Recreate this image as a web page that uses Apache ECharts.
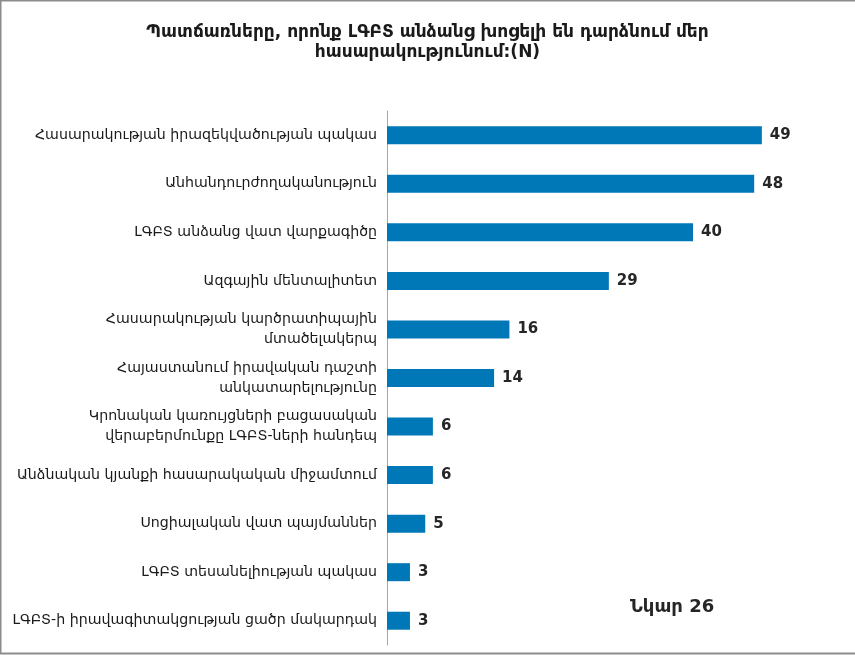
<!DOCTYPE html>
<html>
<head>
<meta charset="utf-8">
<style>
  html, body { margin: 0; padding: 0; background: #fff; }
  #chart { width: 855px; height: 655px; }
</style>
<script src="https://cdn.jsdelivr.net/npm/echarts@6/dist/echarts.min.js"></script>
</head>
<body>
<div id="chart"></div>
<script>
var titleText = "Պատճառները, որոնք ԼԳԲՏ անձանց խոցելի են դարձնում մեր\nհասարակությունում:(N)";
var noteText = "Նկար 26";

// top to bottom as in the picture
var categories = [
  "Հասարակության իրազեկվածության պակաս",
  "Անհանդուրժողականություն",
  "ԼԳԲՏ անձանց վատ վարքագիծը",
  "Ազգային մենտալիտետ",
  "Հասարակության կարծրատիպային\nմտածելակերպ",
  "Հայաստանում իրավական դաշտի\nանկատարելությունը",
  "Կրոնական կառույցների բացասական\nվերաբերմունքը ԼԳԲՏ-ների հանդեպ",
  "Անձնական կյանքի հասարակական միջամտում",
  "Սոցիալական վատ պայմաններ",
  "ԼԳԲՏ տեսանելիության պակաս",
  "ԼԳԲՏ-ի իրավագիտակցության ցածր մակարդակ"
];
var values = [49, 48, 40, 29, 16, 14, 6, 6, 5, 3, 3];

var font = "'DejaVu Sans', 'Noto Sans', sans-serif";

var chart = echarts.init(document.getElementById("chart"));
var option = {
  backgroundColor: "#fff",
  animation: false,
  title: {
    text: titleText,
    left: "center",
    top: 18,
    textStyle: {
      fontFamily: font,
      fontSize: 17,
      fontWeight: "bold",
      color: "#1a1a1a",
      lineHeight: 20
    }
  },
  grid: {
    left: 387,
    right: 9,
    top: 111,
    bottom: 10,
    containLabel: false
  },
  xAxis: {
    type: "value",
    min: 0,
    max: 60,
    show: false
  },
  yAxis: {
    type: "category",
    inverse: true,
    data: categories,
    axisLine: { show: true, lineStyle: { color: "#a6a6a6", width: 1 } },
    axisTick: { show: false },
    axisLabel: {
      margin: 10,
      align: "right",
      fontFamily: font,
      fontSize: 14.2,
      color: "#1a1a1a",
      lineHeight: 20
    }
  },
  series: [{
    type: "bar",
    data: values,
    barWidth: 18,
    itemStyle: { color: "#0077b6" },
    label: {
      show: true,
      position: "right",
      distance: 8,
      fontFamily: font,
      fontSize: 15,
      fontWeight: "bold",
      color: "#262626"
    }
  }],
  graphic: [
    {
      type: "text",
      left: 630,
      top: 598,
      style: {
        text: noteText,
        font: "bold 18px " + font,
        fill: "#262626"
      }
    },
    {
      type: "rect",
      shape: { x: 0.5, y: 0.5, width: 860, height: 653 },
      style: { fill: "none", stroke: "#8c8c8c", lineWidth: 2 },
      silent: true
    }
  ]
};
chart.setOption(option);
</script>
</body>
</html>
